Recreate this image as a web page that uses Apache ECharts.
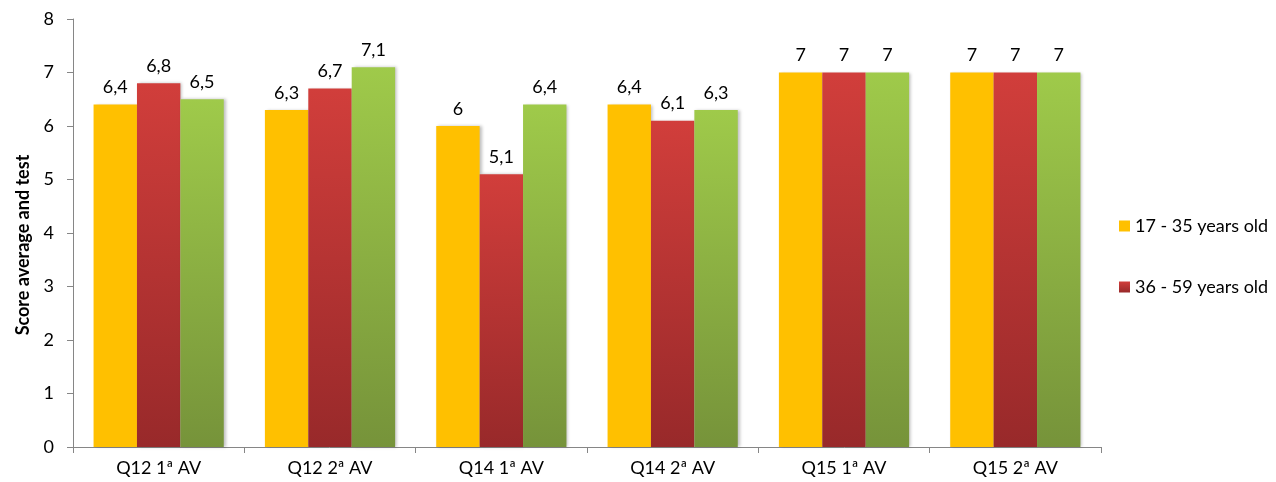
<!DOCTYPE html>
<html><head><meta charset="utf-8">
<script src="https://cdn.jsdelivr.net/npm/echarts@6/dist/echarts.min.js"></script>
<style>html,body{margin:0;padding:0;background:#fff}#c{width:1276px;height:482px}</style>
</head><body><div id="c"></div>
<script>
const categories = ['Q12 1ª AV','Q12 2ª AV','Q14 1ª AV','Q14 2ª AV','Q15 1ª AV','Q15 2ª AV'];
const seriesNames = ['17 - 35 years old','36 - 59 years old','60+ years old'];
const young = [6.4, 6.3, 6, 6.4, 7, 7];
const middle = [6.8, 6.7, 5.1, 6.1, 7, 7];
const older = [6.5, 7.1, 6.4, 6.3, 7, 7];
const yTicks = [0,1,2,3,4,5,6,7,8];

const font = 'Lato, "Open Sans", sans-serif';
function grad(top, bottom){
  return new echarts.graphic.LinearGradient(0,0,0,1,[{offset:0,color:top},{offset:1,color:bottom}]);
}
const label = {show:true, position:'top', distance:8, color:'#000', fontFamily:font, fontSize:18,
  formatter: p => String(p.value).replace('.', ',')};
const common = {type:'bar', barGap:'0%', barCategoryGap:'24%', label,
  itemStyle:{shadowColor:'rgba(0,0,0,0.25)', shadowBlur:3, shadowOffsetX:2}};
const chart = echarts.init(document.getElementById('c'));
chart.setOption({
  animation:false,
  grid:{left:73, right:175, top:19, bottom:35},
  legend:{orient:'vertical', left:1114, top:212, itemGap:43, itemWidth:11, itemHeight:11,
    icon:'rect', data:[seriesNames[0], seriesNames[1]],
    textStyle:{fontFamily:font, fontSize:18, color:'#000'}},
  xAxis:{type:'category', data:categories,
    axisLine:{lineStyle:{color:'#868686'}},
    axisTick:{show:true, length:6, lineStyle:{color:'#868686'}},
    axisLabel:{fontFamily:font, fontSize:18, color:'#000', margin:12}},
  yAxis:{type:'value', min:yTicks[0], max:yTicks[yTicks.length-1], interval:1,
    name:'Score average and test', nameLocation:'middle', nameGap:38,
    nameTextStyle:{fontFamily:font, fontSize:18, fontWeight:'bold', color:'#000', padding:[0,24,0,0]},
    axisLine:{show:true, lineStyle:{color:'#868686'}},
    axisTick:{show:true, length:6, lineStyle:{color:'#868686'}},
    splitLine:{show:false},
    axisLabel:{fontFamily:font, fontSize:18, color:'#000', margin:19}},
  series:[
    Object.assign({}, common, {name:seriesNames[0], data:young, itemStyle:Object.assign({}, common.itemStyle, {color:'#FFC000'})}),
    Object.assign({}, common, {name:seriesNames[1], data:middle, itemStyle:Object.assign({}, common.itemStyle, {color:grad('#D13E3B','#98292A')})}),
    Object.assign({}, common, {name:seriesNames[2], data:older, itemStyle:Object.assign({}, common.itemStyle, {color:grad('#9FCA4A','#76933A')})})
  ]
});
</script></body></html>
